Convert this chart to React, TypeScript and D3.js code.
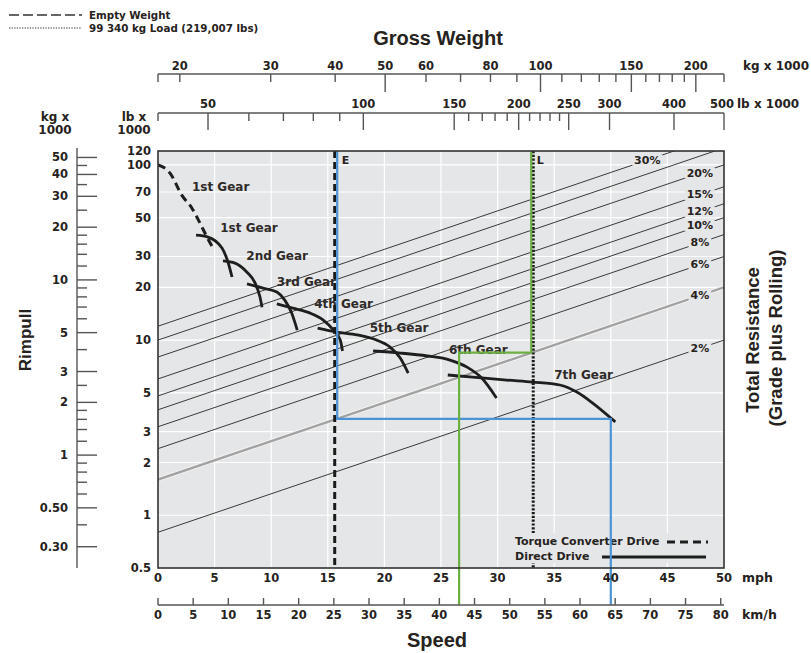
import * as d3 from 'd3';
import React, { useRef, useEffect } from 'react';

// speed rulers
const mphTicks = [0, 5, 10, 15, 20, 25, 30, 35, 40, 45, 50];
const kmhTicks = [0, 5, 10, 15, 20, 25, 30, 35, 40, 45, 50, 55, 60, 65, 70, 75, 80];

// rimpull, lb x 1000
const lbRimpullTicks = [0.5, 1, 2, 3, 5, 10, 20, 30, 50, 70, 100, 120];
const rimpullGrid = [1, 2, 3, 5, 10, 20, 30, 50, 70, 100];
// rimpull, kg x 1000
const kgRimpullMajor = [0.3, 0.5, 1, 2, 3, 5, 10, 20, 30, 40, 50];
const kgRimpullMinor = [0.4, 0.6, 0.7, 0.8, 0.9, 1.2, 1.4, 1.6, 1.8, 2.5, 4, 6, 7, 8, 9, 12, 14, 16, 18, 25, 35, 45];

// gross weight rulers
const gwKgLabels = [20, 30, 40, 50, 60, 80, 100, 150, 200];
const gwKgLong = [50, 100, 150, 200];
const gwKgShort = [20, 30, 40, 60, 70, 80, 90, 110, 120, 130, 140, 160, 170, 180, 190];
const gwLbLabels = [50, 100, 150, 200, 250, 300, 400, 500];
const gwLbShort = [60, 70, 80, 90, 160, 170, 180, 190, 210, 220, 230, 240];

// total resistance lines (grade plus rolling), %
const grades = [2, 4, 6, 8, 10, 12, 15, 20, 25, 30];
const gradeLabels = ['2%', '4%', '6%', '8%', '10%', '12%', '15%', '20%', '', '30%'];
// gross weight (lb x 1000) where each label sits on its line
const gradeLabelAt = [449, 449, 449, 449, 449, 449, 449, 449, 0, 355];

// gear curves: [mph, rimpull lb x 1000]
const gear1TC = [[0, 100], [1.06, 89.8], [2.1, 67.2], [3.0, 56.6], [3.71, 46.5], [4.33, 38.7], [4.86, 33.5]];
const gear1 = [[3.36, 39.7], [4.42, 38.7], [5.65, 33.5], [6.18, 27.9], [6.54, 22.9]];
const gear2 = [[5.74, 28.3], [6.8, 27.5], [7.86, 24.4], [8.57, 21.2], [9.01, 17.6], [9.19, 15.4]];
const gear3 = [[7.86, 20.9], [9.28, 19.8], [10.5, 18.8], [11.2, 16.9], [11.8, 14.3], [12.3, 11.4]];
const gear4 = [[10.5, 16.1], [11.9, 15.2], [13.4, 14.3], [14.6, 13.0], [15.5, 11.4], [16.1, 10.0], [16.3, 8.66]];
const gear5 = [[14.1, 11.7], [15.8, 11.1], [17.6, 10.7], [19.3, 10.0], [20.5, 9.12], [21.4, 7.9], [22.1, 6.48]];
const gear6 = [[19.0, 8.66], [21.4, 8.43], [23.8, 8.11], [25.8, 7.69], [27.3, 7.01], [28.6, 6.07], [29.9, 4.67]];
const gear7 = [[25.6, 6.32], [27.8, 6.15], [30.8, 5.91], [33.1, 5.76], [35.5, 5.54], [37.0, 5.05], [38.4, 4.37], [40.4, 3.41]];
const gearNames = ['1st Gear', '1st Gear', '2nd Gear', '3rd Gear', '4th Gear', '5th Gear', '6th Gear', '7th Gear'];
const gearLabelPos = [[3.0, 74.7], [5.5, 43.6], [7.8, 30.2], [10.5, 21.4], [13.8, 16.1], [18.7, 11.7], [25.7, 8.77], [35.0, 6.32]];

// worked examples: gross weight lb x 1000 and resulting speed, mph
const emptyGW = 88.8;
const loadedGW = 212;
const examplePct = 4;
const emptySpeed = 40;
const loadedSpeed = 26.6;

const KG = 2.20462;
const KMH = 1.609344;

const SMALL = '"DejaVu Sans", Verdana, sans-serif';
const BIG = '"Liberation Sans", Arial, Helvetica, sans-serif';
const INK = '#262220';
const PLOT_BG = '#e5e6e7';

function RimpullChart({ width, height }) {
    const ref = useRef();

    useEffect(() => {
        draw();
    }, []);

    const draw = () => {
        const svg = d3.select(ref.current);
        svg.selectAll('*').remove();

        const left = 158, right = 724, top = 151, bottom = 568;

        const x = d3.scaleLinear().domain([0, 50]).range([left, right]);
        const y = d3.scaleLog().domain([0.5, 120]).range([bottom, top]);
        const gw = d3.scaleLog().domain([40, 500]).range([left, right]);

        svg.append('rect').attr('width', width).attr('height', height).attr('fill', 'white');

        svg.append('defs').append('clipPath').attr('id', 'plotclip')
            .append('rect').attr('x', left).attr('y', top)
            .attr('width', right - left).attr('height', bottom - top);

        // plot background + grid
        svg.append('rect').attr('x', left).attr('y', top)
            .attr('width', right - left).attr('height', bottom - top)
            .attr('fill', PLOT_BG);

        const grid = svg.append('g').attr('stroke', 'white').attr('stroke-width', 1.2);
        grid.selectAll('.gy').data(rimpullGrid).enter().append('line')
            .attr('x1', left).attr('x2', right)
            .attr('y1', d => y(d)).attr('y2', d => y(d));
        grid.selectAll('.gx').data(mphTicks.slice(1, -1)).enter().append('line')
            .attr('y1', top).attr('y2', bottom)
            .attr('x1', d => x(d)).attr('x2', d => x(d));

        // grade lines
        const plot = svg.append('g').attr('clip-path', 'url(#plotclip)');
        const gradeLine = (p) => d3.line()
            .x(d => gw(d))
            .y(d => y(d * p / 100))([40, 500]);

        grades.forEach(p => {
            if (p === examplePct) {
                plot.append('path').attr('d', gradeLine(p))
                    .attr('fill', 'none').attr('stroke', '#f4f4f4').attr('stroke-width', 4.2);
                plot.append('path').attr('d', gradeLine(p))
                    .attr('fill', 'none').attr('stroke', '#a2a2a2').attr('stroke-width', 2.4);
            } else {
                plot.append('path').attr('d', gradeLine(p))
                    .attr('fill', 'none').attr('stroke', '#3a3a3a').attr('stroke-width', 1);
            }
        });

        grades.forEach((p, i) => {
            if (!gradeLabels[i]) return;
            const at = gradeLabelAt[i];
            const g = plot.append('g');
            const t = g.append('text')
                .attr('x', gw(at)).attr('y', y(at * p / 100))
                .attr('text-anchor', 'middle').attr('dominant-baseline', 'central')
                .style('font-family', SMALL).style('font-weight', 'bold').style('font-size', '11px')
                .attr('fill', INK)
                .text(gradeLabels[i]);
            const bb = t.node().getBBox();
            g.insert('rect', 'text')
                .attr('x', bb.x - 2).attr('y', bb.y + 1)
                .attr('width', bb.width + 4).attr('height', bb.height - 2)
                .attr('fill', PLOT_BG);
        });

        // gear curves
        const curve = d3.line()
            .x(d => x(d[0]))
            .y(d => y(d[1]))
            .curve(d3.curveMonotoneX);

        plot.append('path').attr('d', curve(gear1TC))
            .attr('fill', 'none').attr('stroke', '#1e1e1e').attr('stroke-width', 3)
            .attr('stroke-dasharray', '8,5');
        [gear1, gear2, gear3, gear4, gear5, gear6, gear7].forEach(pts => {
            plot.append('path').attr('d', curve(pts))
                .attr('fill', 'none').attr('stroke', '#1e1e1e').attr('stroke-width', 2.8)
                .attr('stroke-linecap', 'butt');
        });

        gearNames.forEach((name, i) => {
            svg.append('text')
                .attr('x', x(gearLabelPos[i][0])).attr('y', y(gearLabelPos[i][1]))
                .attr('dominant-baseline', 'central')
                .style('font-family', SMALL).style('font-weight', 'bold').style('font-size', '12px')
                .attr('fill', '#2f2b29')
                .text(name);
        });

        // empty / loaded markers
        const xE = gw(emptyGW), xL = gw(loadedGW);
        svg.append('line')
            .attr('x1', xE - 2).attr('x2', xE - 2).attr('y1', top).attr('y2', bottom)
            .attr('stroke', '#1a1a1a').attr('stroke-width', 3).attr('stroke-dasharray', '7,4');
        svg.append('line')
            .attr('x1', xL + 1.5).attr('x2', xL + 1.5).attr('y1', top).attr('y2', bottom)
            .attr('stroke', '#1a1a1a').attr('stroke-width', 3).attr('stroke-dasharray', '2.2,1.6');

        svg.append('text').attr('x', xE + 5).attr('y', top + 13)
            .style('font-family', SMALL).style('font-weight', 'bold').style('font-size', '11px')
            .attr('fill', INK).text('E');
        svg.append('text').attr('x', xL + 5).attr('y', top + 13)
            .style('font-family', SMALL).style('font-weight', 'bold').style('font-size', '11px')
            .attr('fill', INK).text('L');

        // drive legend
        svg.append('rect').attr('x', 512).attr('y', 533).attr('width', 200).attr('height', 30)
            .attr('fill', PLOT_BG);
        svg.append('text').attr('x', 515).attr('y', 541).attr('dominant-baseline', 'central')
            .style('font-family', SMALL).style('font-weight', 'bold').style('font-size', '11px')
            .attr('fill', INK).text('Torque Converter Drive');
        svg.append('text').attr('x', 515).attr('y', 556).attr('dominant-baseline', 'central')
            .style('font-family', SMALL).style('font-weight', 'bold').style('font-size', '11px')
            .attr('fill', INK).text('Direct Drive');
        svg.append('line').attr('x1', 667).attr('x2', 708).attr('y1', 542).attr('y2', 542)
            .attr('stroke', '#1e1e1e').attr('stroke-width', 3).attr('stroke-dasharray', '8,5');
        svg.append('line').attr('x1', 602).attr('x2', 706).attr('y1', 557).attr('y2', 557)
            .attr('stroke', '#1e1e1e').attr('stroke-width', 3.2);

        // worked example paths
        const kmAxisY = 605;
        const yE = y(emptyGW * examplePct / 100);
        const yL = y(loadedGW * examplePct / 100);
        svg.append('path')
            .attr('d', `M${xE + 0.5},${top}V${yE}H${x(emptySpeed)}V${kmAxisY}`)
            .attr('fill', 'none').attr('stroke', '#4b93d6').attr('stroke-width', 2.2);
        svg.append('path')
            .attr('d', `M${xL - 0.5},${top}V${yL}H${x(loadedSpeed)}V${kmAxisY}`)
            .attr('fill', 'none').attr('stroke', '#6cb043').attr('stroke-width', 2.2);

        // frame
        svg.append('rect').attr('x', left).attr('y', top)
            .attr('width', right - left).attr('height', bottom - top)
            .attr('fill', 'none').attr('stroke', '#333').attr('stroke-width', 1.6);

        const label = (sel, size) => sel
            .style('font-family', SMALL).style('font-weight', 'bold').style('font-size', size)
            .attr('fill', INK);

        // left lb ticks labels
        lbRimpullTicks.forEach(v => {
            label(svg.append('text'), '11.5px')
                .attr('x', 151).attr('y', y(v)).attr('text-anchor', 'end')
                .attr('dominant-baseline', 'central').text(v);
        });

        // kg rimpull ruler
        const ruler = svg.append('g').attr('stroke', '#555').attr('stroke-width', 1.4);
        ruler.append('line').attr('x1', 77).attr('x2', 77).attr('y1', 148).attr('y2', bottom);
        ruler.selectAll('.maj').data(kgRimpullMajor).enter().append('line')
            .attr('x1', 77).attr('x2', 97)
            .attr('y1', d => y(d * KG)).attr('y2', d => y(d * KG));
        ruler.selectAll('.min').data(kgRimpullMinor).enter().append('line')
            .attr('x1', 77).attr('x2', 87)
            .attr('y1', d => y(d * KG)).attr('y2', d => y(d * KG));
        kgRimpullMajor.forEach(v => {
            label(svg.append('text'), '11.5px')
                .attr('x', 68).attr('y', y(v * KG)).attr('text-anchor', 'end')
                .attr('dominant-baseline', 'central').text(v < 1 ? v.toFixed(2) : v);
        });

        // headers of the left rulers
        [['kg x', 55, 121], ['1000', 55, 134], ['lb x', 134, 121], ['1000', 134, 134]].forEach(([t, tx, ty]) => {
            label(svg.append('text'), '12px')
                .attr('x', tx).attr('y', ty).attr('text-anchor', 'middle').text(t);
        });

        // gross weight rulers
        const gwAxis = svg.append('g').attr('stroke', '#555').attr('stroke-width', 1.4);
        const kgY = 74, lbY = 113;
        gwAxis.append('line').attr('x1', left).attr('x2', right).attr('y1', kgY).attr('y2', kgY);
        gwAxis.append('line').attr('x1', left).attr('x2', right).attr('y1', lbY).attr('y2', lbY);
        [left, right].forEach(px => {
            gwAxis.append('line').attr('x1', px).attr('x2', px).attr('y1', kgY).attr('y2', kgY + 8);
        });
        gwAxis.append('line').attr('x1', left).attr('x2', left).attr('y1', lbY).attr('y2', lbY + 8);
        gwAxis.selectAll('.ks').data(gwKgShort).enter().append('line')
            .attr('x1', d => gw(d * KG)).attr('x2', d => gw(d * KG))
            .attr('y1', kgY).attr('y2', kgY + 8);
        gwAxis.selectAll('.kl').data(gwKgLong).enter().append('line')
            .attr('x1', d => gw(d * KG)).attr('x2', d => gw(d * KG))
            .attr('y1', kgY).attr('y2', kgY + 18);
        gwAxis.selectAll('.ls').data(gwLbShort).enter().append('line')
            .attr('x1', d => gw(d)).attr('x2', d => gw(d))
            .attr('y1', lbY).attr('y2', lbY + 8);
        gwAxis.selectAll('.ll').data(gwLbLabels).enter().append('line')
            .attr('x1', d => gw(d)).attr('x2', d => gw(d))
            .attr('y1', lbY).attr('y2', lbY + 17);

        gwKgLabels.forEach(v => {
            label(svg.append('text'), '11.5px')
                .attr('x', gw(v * KG)).attr('y', kgY - 4).attr('text-anchor', 'middle').text(v);
        });
        gwLbLabels.forEach(v => {
            label(svg.append('text'), '11.5px')
                .attr('x', v === 500 ? gw(v) - 2 : gw(v)).attr('y', lbY - 5).attr('text-anchor', 'middle').text(v);
        });
        label(svg.append('text'), '12px').attr('x', 743).attr('y', kgY - 4).text('kg x 1000');
        label(svg.append('text'), '12px').attr('x', 737).attr('y', lbY - 5).text('lb x 1000');

        // speed rulers
        mphTicks.forEach(v => {
            label(svg.append('text'), '11.5px')
                .attr('x', x(v)).attr('y', 582).attr('text-anchor', 'middle').text(v);
        });
        label(svg.append('text'), '12.5px').attr('x', 742).attr('y', 582).text('mph');

        const km = svg.append('g').attr('stroke', '#555').attr('stroke-width', 1.4);
        km.append('line').attr('x1', left).attr('x2', right).attr('y1', kmAxisY).attr('y2', kmAxisY);
        km.selectAll('.kt').data(kmhTicks).enter().append('line')
            .attr('x1', d => x(d / KMH)).attr('x2', d => x(d / KMH))
            .attr('y1', kmAxisY).attr('y2', kmAxisY - 7);
        kmhTicks.forEach(v => {
            label(svg.append('text'), '11.5px')
                .attr('x', x(v / KMH)).attr('y', 619).attr('text-anchor', 'middle').text(v);
        });
        label(svg.append('text'), '12.5px').attr('x', 742).attr('y', 619).text('km/h');

        // titles
        const title = (t, size) => svg.append('text')
            .style('font-family', BIG).style('font-weight', 'bold').style('font-size', size)
            .attr('fill', INK).attr('text-anchor', 'middle').text(t);
        title('Gross Weight', '20px').attr('x', 438).attr('y', 45);
        title('Speed', '20px').attr('x', 437).attr('y', 647);
        title('Rimpull', '17px').attr('transform', 'translate(31,340) rotate(-90)');
        title('Total Resistance', '18.5px').attr('transform', 'translate(759,340) rotate(-90)');
        title('(Grade plus Rolling)', '18.5px').attr('transform', 'translate(782,338) rotate(-90)');

        // weight legend
        svg.append('line').attr('x1', 9).attr('x2', 82).attr('y1', 15).attr('y2', 15)
            .attr('stroke', '#333').attr('stroke-width', 1.4).attr('stroke-dasharray', '10,4');
        svg.append('line').attr('x1', 9).attr('x2', 82).attr('y1', 28).attr('y2', 28)
            .attr('stroke', '#333').attr('stroke-width', 1.2).attr('stroke-dasharray', '1.3,1.3');
        label(svg.append('text'), '10.3px').attr('x', 89).attr('y', 18.5).text('Empty Weight');
        label(svg.append('text'), '10.3px').attr('x', 89).attr('y', 31.5).text('99 340 kg Load (219,007 lbs)');
    };

    return (
        <svg ref={ref} width={width} height={height}
            style={{ position: 'absolute', left: 0, top: 0, display: 'block' }}>
        </svg>
    );
}

export default function App() {
    return <RimpullChart width={811} height={653} />;
}
